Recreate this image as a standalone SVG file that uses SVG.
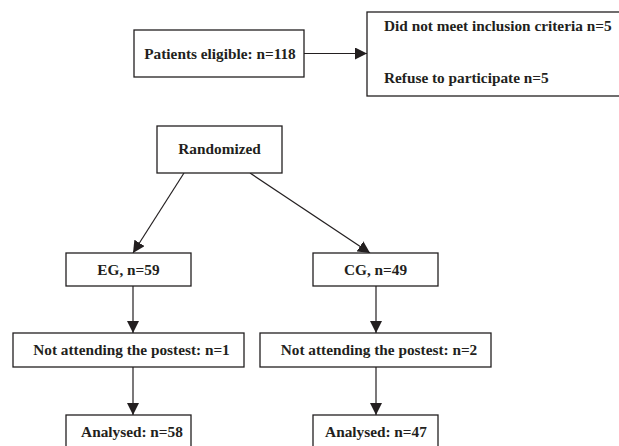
<svg xmlns="http://www.w3.org/2000/svg" width="619" height="446" viewBox="0 0 619 446">
<defs>
<marker id="ah" viewBox="0 0 10 10" refX="10" refY="5" markerWidth="12" markerHeight="12" markerUnits="userSpaceOnUse" orient="auto">
<path d="M0,0 L10,5 L0,10 Z" fill="#231f20"/>
</marker>
<style>
.box{fill:#fff;stroke:#231f20;stroke-width:1.3}
.t{font-family:"Liberation Serif","Times New Roman",serif;font-weight:bold;font-size:15.3px;fill:#231f20}
.c{text-anchor:middle}
.ln{stroke:#231f20;stroke-width:1.2;fill:none;marker-end:url(#ah)}
</style>
</defs>
<rect width="619" height="446" fill="#fff"/>
<g id="connectors">
<line class="ln" x1="304" y1="53.5" x2="367" y2="53.5"/>
<line class="ln" x1="184" y1="173" x2="133" y2="253"/>
<line class="ln" x1="250" y1="173" x2="370" y2="253"/>
<line class="ln" x1="133" y1="286" x2="133" y2="333"/>
<line class="ln" x1="376" y1="286" x2="376" y2="333"/>
<line class="ln" x1="133" y1="367" x2="133" y2="415"/>
<line class="ln" x1="376" y1="367" x2="376" y2="415"/>
</g>
<g id="eligible">
<rect class="box" x="134" y="30" width="170" height="47"/>
<text class="t c" x="220" y="59">Patients eligible: n=118</text>
</g>
<g id="excluded">
<rect class="box" x="367" y="12" width="260" height="84"/>
<text class="t" x="384" y="31">Did not meet inclusion criteria n=5</text>
<text class="t" x="384" y="83">Refuse to participate n=5</text>
</g>
<g id="randomized">
<rect class="box" x="157" y="126" width="125" height="47"/>
<text class="t c" x="219.5" y="154">Randomized</text>
</g>
<g id="eg">
<rect class="box" x="66" y="253" width="125" height="33"/>
<text class="t c" x="128.5" y="274.5">EG, n=59</text>
</g>
<g id="cg">
<rect class="box" x="313" y="253" width="125" height="33"/>
<text class="t c" x="375.5" y="274.5">CG, n=49</text>
</g>
<g id="eg-lost">
<rect class="box" x="13" y="333" width="231" height="34"/>
<text class="t c" x="131.5" y="355">Not attending the postest: n=1</text>
</g>
<g id="cg-lost">
<rect class="box" x="260" y="333" width="231" height="34"/>
<text class="t c" x="379" y="355">Not attending the postest: n=2</text>
</g>
<g id="eg-analysed">
<rect class="box" x="66" y="415" width="125" height="40"/>
<text class="t c" x="132" y="437">Analysed: n=58</text>
</g>
<g id="cg-analysed">
<rect class="box" x="313" y="415" width="125" height="40"/>
<text class="t c" x="376" y="437">Analysed: n=47</text>
</g>
</svg>
